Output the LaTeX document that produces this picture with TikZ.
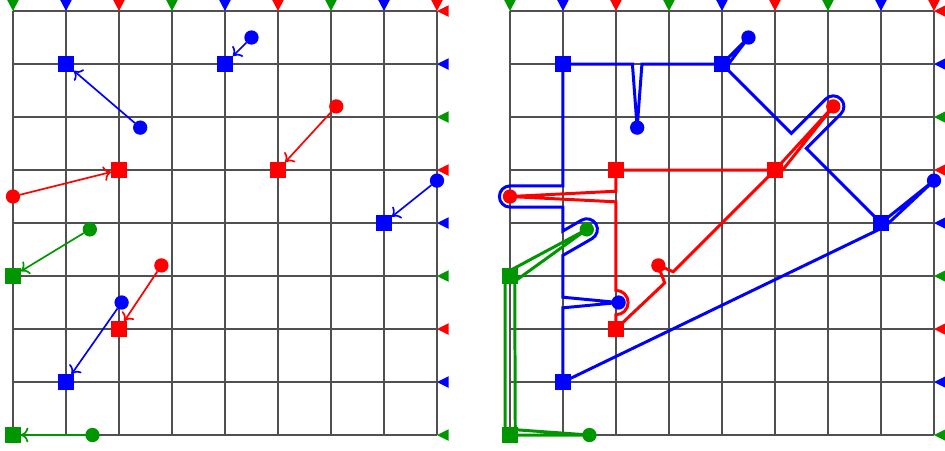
\documentclass[tikz,border=0pt]{standalone}
\usepackage{tikz}
\usetikzlibrary{positioning,arrows.meta,calc}
\definecolor{netred}{RGB}{255,0,0}
\definecolor{netblue}{RGB}{0,0,255}
\definecolor{netgreen}{RGB}{0,150,0}
\definecolor{gridc}{RGB}{80,80,80}
\tikzset{
  gridline/.style = {draw=gridc, line width=0.6pt},
  goalsq/.style   = {rectangle, fill=#1, minimum size=3mm, inner sep=0pt, outer sep=0pt},
  startdot/.style = {circle, fill=#1, minimum size=2.7mm, inner sep=0pt, outer sep=0pt},
  flag/.style     = {fill=#1},
  move/.style     = {-{To[length=1.4mm,width=2.8mm]}, line width=0.9pt, draw=#1},
  wire/.style     = {line width=1.6pt, draw=#1},
}

\begin{document}
\begin{tikzpicture}

\useasboundingbox (-0.245,-0.283) rectangle (17.585,8.208);

% two boards, pins on top and right
\foreach \gx in {0,9.377} {
  \begin{scope}[xshift=\gx cm]
    \draw[gridline] (0,0) grid (8,8);
    \foreach \k/\c in {0/netgreen,1/netblue,2/netred,3/netgreen,4/netblue,
                       5/netred,6/netgreen,7/netblue,8/netred} {
      \fill[flag=\c] (\k,8) -- ++(-0.11,0.21) -- ++(0.22,0) -- cycle;
      \fill[flag=\c] (8,\k) -- ++(0.22,0.11) -- ++(0,-0.22) -- cycle;
    }
  \end{scope}
}

% routed nets
\begin{scope}[xshift=9.377cm]
  \draw[wire=netblue] (7,4) -- (8,4.8) -- (7.07,3.93) -- (1,1) -- (1,2.4) -- (2.05,2.5) -- (1,2.6)
    -- (1,3.39) -- (1.55,3.707) arc[start angle=-60, end angle=120, radius=0.2] -- (1,3.85)
    -- (1,4.3) -- (0,4.3) arc[start angle=-90, end angle=-270, radius=0.2] -- (1,4.7)
    -- (1,7) -- (2.31,7) -- (2.4,5.8) -- (2.49,7) -- (4,7) -- (4.5,7.5) -- (4.07,6.93)
    -- (5.309,5.691) -- (5.959,6.341) arc[start angle=135, end angle=-45, radius=0.2]
    -- (5.591,5.409) -- cycle;
  \draw[wire=netred] (2,5) -- (2,4.6) -- (0,4.5) -- (2,4.4)
    -- (2,2.73) arc[start angle=90, end angle=-90, radius=0.23]
    -- (2,2) -- (2.92,2.87) -- (2.85,3.05) -- (2.8,3.2) -- (3.08,3.08) -- (5,5)
    -- (6.1,6.2) -- (5.08,4.92) -- (5,5) -- cycle;
  \draw[wire=netgreen] (-0.09,3) -- (-0.09,0) -- (1.5,0) -- (0.1,0.1) -- (0.09,2.9)
    -- (1.45,3.88) -- (0.03,3.12) -- cycle;
\end{scope}

% terminals
\foreach \gx/\s in {0/l,9.377/r} {
  \begin{scope}[xshift=\gx cm]
    \node[goalsq=netblue]    (\s b1) at (1,7) {};
    \node[goalsq=netblue]    (\s b2) at (4,7) {};
    \node[goalsq=netblue]    (\s b3) at (7,4) {};
    \node[goalsq=netblue]    (\s b4) at (1,1) {};
    \node[goalsq=netred]     (\s r1) at (2,5) {};
    \node[goalsq=netred]     (\s r2) at (5,5) {};
    \node[goalsq=netred]     (\s r3) at (2,2) {};
    \node[goalsq=netgreen]   (\s g1) at (0,3) {};
    \node[goalsq=netgreen]   (\s g2) at (0,0) {};
    \node[startdot=netblue]  (\s bd1) at (2.4,5.8) {};
    \node[startdot=netblue]  (\s bd2) at (4.5,7.5) {};
    \node[startdot=netblue]  (\s bd3) at (8,4.8) {};
    \node[startdot=netblue]  (\s bd4) at (2.05,2.5) {};
    \node[startdot=netred]   (\s rd1) at (0,4.5) {};
    \node[startdot=netred]   (\s rd2) at (6.1,6.2) {};
    \node[startdot=netred]   (\s rd3) at (2.8,3.2) {};
    \node[startdot=netgreen] (\s gd1) at (1.45,3.88) {};
    \node[startdot=netgreen] (\s gd2) at (1.5,0) {};
  \end{scope}
}

% moves on the left board
\foreach \a/\b/\c in {bd1/b1/netblue,bd2/b2/netblue,bd3/b3/netblue,bd4/b4/netblue,
                      rd1/r1/netred,rd2/r2/netred,rd3/r3/netred,
                      gd1/g1/netgreen,gd2/g2/netgreen}
  \draw[move=\c] (l\a) -- (l\b);

\end{tikzpicture}
\end{document}
